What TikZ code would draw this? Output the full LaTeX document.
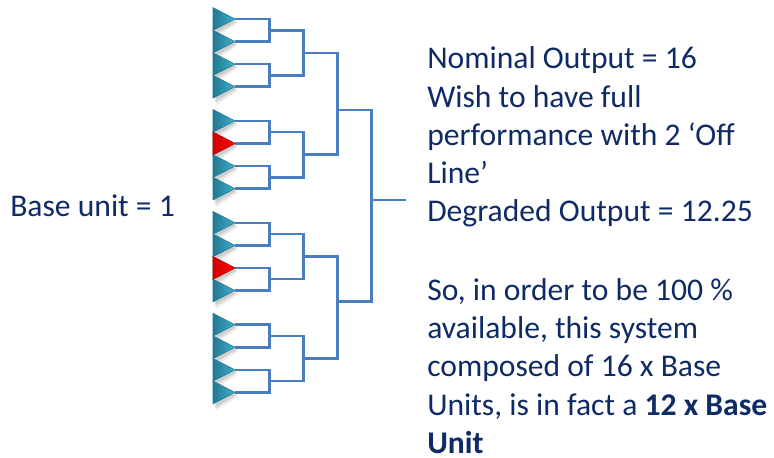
\documentclass[tikz,border=0pt]{standalone}
\usepackage{fontspec}
\setmainfont{Carlito}
\usetikzlibrary{calc}
\definecolor{navy}{HTML}{0F2B66}
\definecolor{wire}{HTML}{4A7EBF}
\definecolor{tealdark}{HTML}{237891}
\definecolor{teallight}{HTML}{3DB0CF}
\definecolor{reddark}{HTML}{D00000}
\definecolor{redlight}{HTML}{FF0A0A}
\tikzset{
  wireline/.style={draw=wire, line width=1.9pt},
  label text/.style={text=navy, inner sep=0pt, font=\fontsize{23.7}{28.7}\selectfont},
  unitbody/.style={left color=tealdark, right color=teallight, draw=tealdark, line width=0.4pt},
  unitoff/.style={left color=reddark, right color=redlight, draw=reddark, line width=0.4pt},
}
% soft shadow below and right of a unit whose apex is #1
\newcommand{\unitshadow}[1]{%
  \foreach \o/\a in {4/0.05,3/0.07,2/0.09}{
    \fill[black, opacity=\a] ($(#1)+(\o*0.8,\o)$) -- ++(-22,-11.3+\o*0.3) -- ++(0,22.6+\o*0.6) -- cycle;
  }}
% one unit: triangle whose apex is the named coordinate #1
\newcommand{\unitshape}[2]{%
  \path[#2] (#1) -- ++(-22,-11.4) -- ++(0,22.8) -- cycle;}
\begin{document}
\begin{tikzpicture}[x=0.75pt, y=-0.75pt]
\useasboundingbox (0,0) rectangle (774,457);

% apex coordinates of the sixteen units, four groups of four
\foreach \g in {0,...,3}{
  \foreach \k in {0,...,3}{
    \pgfmathsetmacro{\ty}{19+101.9*\g+22.57*\k}
    \coordinate (t\g\k) at (235,\ty);
  }
}

% junction points of the pairs and of the groups
\foreach \g in {0,...,3}{
  \coordinate (j\g0) at ($(t\g0)!0.5!(t\g1) + (34.3,0)$);
  \coordinate (j\g1) at ($(t\g2)!0.5!(t\g3) + (34.3,0)$);
  \coordinate (b\g) at ($(j\g0)!0.5!(j\g1) + (34,0)$);
}

% first-level joins (pairs)
\draw[wireline] (t00) -| (j00) |- (t01);
\draw[wireline] (t02) -| (j01) |- (t03);
\draw[wireline] (t10) -| (j10) |- (t11);
\draw[wireline] (t12) -| (j11) |- (t13);
\draw[wireline] (t20) -| (j20) |- (t21);
\draw[wireline] (t22) -| (j21) |- (t23);
\draw[wireline] (t30) -| (j30) |- (t31);
\draw[wireline] (t32) -| (j31) |- (t33);

% second-level joins (groups)
\draw[wireline] (j00) -| (b0) |- (j01);
\draw[wireline] (j10) -| (b1) |- (j11);
\draw[wireline] (j20) -| (b2) |- (j21);
\draw[wireline] (j30) -| (b3) |- (j31);

% third-level joins
\coordinate (c0) at (337.3,110);
\coordinate (c1) at (337.3,301.7);
\draw[wireline] (b0) -| (c0) |- (b1);
\draw[wireline] (b2) -| (c1) |- (b3);

% top-level join and output
\coordinate (d) at (371.7,200);
\coordinate (out) at (405.7,200);
\draw[wireline] (c0) -| (d) |- (c1);
\draw[wireline] (d) -- (out);

% units
\foreach \g in {0,...,3}{\foreach \k in {0,...,3}{\unitshadow{t\g\k}}}
\foreach \g in {0,...,3}{
  \foreach \k in {0,...,3}{
    \unitshape{t\g\k}{unitbody}
  }
}
\unitshape{t11}{unitoff}
\unitshape{t22}{unitoff}

% labels
\node[label text, anchor=base west] (base) at (10,216) {Base unit = 1};
\node[label text, anchor=base west, align=left] (notes) at (427,453.3)
  {Nominal Output = 16\\
   Wish to have full\\
   performance with 2 ‘Off\\
   Line’\\
   Degraded Output = 12.25\\[30.1pt]
   So, in order to be 100 \%\\
   available, this system\\
   composed of 16 x Base\\
   Units, is in fact a \textbf{12 x Base}\\
   \textbf{Unit}};
\end{tikzpicture}
\end{document}
